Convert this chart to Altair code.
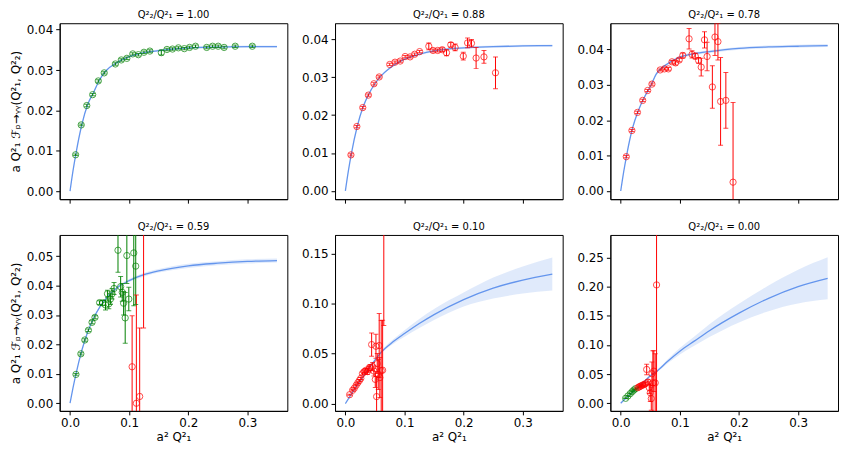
import altair as alt
import pandas as pd

# ---------------- data ----------------
ratios = ["1.00", "0.88", "0.78", "0.59", "0.10", "0.00"]

curve_x = [0, 0.005, 0.01, 0.02, 0.03, 0.04, 0.05, 0.06, 0.08, 0.10, 0.125, 0.15, 0.20, 0.25, 0.30, 0.35]

curve_y1 = [0, 0.0050, 0.0093, 0.0165, 0.0215, 0.0245, 0.0276, 0.0297, 0.0319, 0.0333, 0.0343, 0.0348, 0.0355, 0.0357, 0.0358, 0.0358]
curve_y2 = [0, 0.0052, 0.0097, 0.0170, 0.0222, 0.0257, 0.0283, 0.0303, 0.0330, 0.0348, 0.0361, 0.0370, 0.0378, 0.0381, 0.0383, 0.0384]
curve_y3 = [0, 0.0054, 0.0101, 0.0178, 0.0228, 0.0265, 0.0295, 0.0330, 0.0360, 0.0378, 0.0388, 0.0394, 0.0403, 0.0407, 0.0409, 0.0411]
curve_y4 = [0, 0.0052, 0.0099, 0.0180, 0.0243, 0.0290, 0.0326, 0.0354, 0.0393, 0.0417, 0.0437, 0.0450, 0.0467, 0.0476, 0.0482, 0.0485]
curve_y5 = [0, 0.0048, 0.0095, 0.0185, 0.0270, 0.0355, 0.0435, 0.0510, 0.0615, 0.0700, 0.0800, 0.0890, 0.1040, 0.1155, 0.1235, 0.1295]
curve_y6 = [0, 0.0050, 0.0098, 0.0190, 0.0280, 0.0375, 0.0470, 0.0540, 0.0725, 0.0893, 0.1070, 0.1245, 0.1546, 0.1800, 0.2001, 0.2143]

band_h1 = [0, 0.0001, 0.0001, 0.0002, 0.0002, 0.0002, 0.0002, 0.0002, 0.0002, 0.0002, 0.0002, 0.0003, 0.0003, 0.0003, 0.0003, 0.0003]
band_h2 = [0, 0.0001, 0.0001, 0.0002, 0.0002, 0.0002, 0.0002, 0.0002, 0.0003, 0.0003, 0.0003, 0.0003, 0.0003, 0.0003, 0.0003, 0.0003]
band_h3 = [0, 0.0001, 0.0002, 0.0002, 0.0003, 0.0003, 0.0003, 0.0003, 0.0003, 0.0004, 0.0004, 0.0004, 0.0004, 0.0004, 0.0004, 0.0004]
band_h4 = [0, 0.0001, 0.0001, 0.0002, 0.0002, 0.0002, 0.0003, 0.0003, 0.0004, 0.0005, 0.0006, 0.0006, 0.0007, 0.0007, 0.0007, 0.0007]
band_h5 = [0, 0.0001, 0.0002, 0.0004, 0.0006, 0.0008, 0.0010, 0.0014, 0.0022, 0.0033, 0.0045, 0.0055, 0.0070, 0.0105, 0.0135, 0.0165]
band_h6 = [0, 0.0001, 0.0002, 0.0004, 0.0007, 0.0010, 0.0015, 0.0020, 0.0035, 0.0055, 0.0080, 0.0110, 0.0160, 0.0220, 0.0290, 0.0360]

# panel 1 (Q2^2/Q1^2 = 1.00)
p1_x = [0.0094, 0.0189, 0.0283, 0.0383, 0.0478, 0.0578, 0.0767, 0.0867, 0.0961, 0.1061, 0.1156, 0.1250, 0.1350,
        0.1544, 0.1639, 0.1733, 0.1833, 0.1933, 0.2022, 0.2122, 0.2311, 0.2411, 0.2506, 0.2606, 0.2794, 0.3083]
p1_y = [0.0090, 0.0164, 0.0212, 0.0239, 0.0273, 0.0293, 0.0315, 0.0325, 0.0329, 0.0340, 0.0338, 0.0344, 0.0347,
        0.0343, 0.0351, 0.0352, 0.0355, 0.0353, 0.0356, 0.0359, 0.0356, 0.0359, 0.0359, 0.0356, 0.0359, 0.0359]
p1_e = [0.0002, 0.0002, 0.0003, 0.0003, 0.0003, 0.0003, 0.0003, 0.0003, 0.0003, 0.0003, 0.0003, 0.0003, 0.0003,
        0.0006, 0.0003, 0.0003, 0.0003, 0.0003, 0.0003, 0.0003, 0.0003, 0.0003, 0.0003, 0.0003, 0.0003, 0.0003]
p1_c = ["g"] * 26

# panel 2 (0.88)
p2_x = [0.0094, 0.0194, 0.0294, 0.0389, 0.0483, 0.0572, 0.0750, 0.0839, 0.0928, 0.1011, 0.1094, 0.1172, 0.1256,
        0.1411, 0.1483, 0.1561, 0.1639, 0.1711, 0.1783, 0.1856, 0.1994, 0.2067, 0.2133, 0.2211, 0.2344, 0.2539]
p2_y = [0.0095, 0.0170, 0.0220, 0.0253, 0.0283, 0.0301, 0.0334, 0.0340, 0.0343, 0.0355, 0.0354, 0.0361, 0.0368,
        0.0382, 0.0371, 0.0371, 0.0373, 0.0365, 0.0386, 0.0379, 0.0356, 0.0391, 0.0390, 0.0351, 0.0354, 0.0312]
p2_e = [0.0003, 0.0003, 0.0003, 0.0003, 0.0003, 0.0003, 0.0003, 0.0003, 0.0003, 0.0003, 0.0003, 0.0003, 0.0003,
        0.0009, 0.0004, 0.0004, 0.0005, 0.0008, 0.0006, 0.0009, 0.0010, 0.0013, 0.0010, 0.0028, 0.0017, 0.0042]
p2_c = ["r"] * 26

# panel 3 (0.78)
p3_x = [0.0094, 0.0189, 0.0283, 0.0372, 0.0456, 0.0528, 0.0667, 0.0739, 0.0806, 0.0867, 0.0928, 0.0989, 0.1050,
        0.1156, 0.1206, 0.1261, 0.1317, 0.1361, 0.1417, 0.1461, 0.1550, 0.1594, 0.1644, 0.1689, 0.1778, 0.1900]
p3_y = [0.0097, 0.0171, 0.0222, 0.0256, 0.0284, 0.0302, 0.0342, 0.0345, 0.0345, 0.0365, 0.0362, 0.0370, 0.0383,
        0.0430, 0.0386, 0.0381, 0.0369, 0.0350, 0.0427, 0.0380, 0.0294, 0.0435, 0.0422, 0.0253, 0.0256, 0.0025]
p3_e = [0.0003, 0.0003, 0.0003, 0.0003, 0.0003, 0.0003, 0.0003, 0.0003, 0.0004, 0.0004, 0.0006, 0.0005, 0.0007,
        0.0029, 0.0010, 0.0008, 0.0008, 0.0025, 0.0023, 0.0040, 0.0060, 0.0052, 0.0052, 0.0124, 0.0079, 0.0225]
p3_c = ["r"] * 26

# panel 4 (0.59)
p4_x = [0.0100, 0.0183, 0.0250, 0.0311, 0.0372, 0.0422, 0.0500, 0.0550, 0.0600, 0.0633, 0.0656, 0.0683, 0.0711,
        0.0744, 0.0811, 0.0856, 0.0883, 0.0906, 0.0933, 0.0961, 0.0994, 0.1078, 0.1111,
        0.1050, 0.1122, 0.1178, 0.1244]
p4_y = [0.0098, 0.0168, 0.0215, 0.0248, 0.0275, 0.0292, 0.0342, 0.0341, 0.0334, 0.0372, 0.0338, 0.0354, 0.0372,
        0.0390, 0.0520, 0.0396, 0.0377, 0.0340, 0.0290, 0.0502, 0.0354, 0.0511, 0.0466,
        0.0124, 0.0000, 0.0023, 0.0750]
p4_e = [0.0003, 0.0004, 0.0004, 0.0004, 0.0005, 0.0005, 0.0006, 0.0008, 0.0017, 0.0012, 0.0017, 0.0018, 0.0018,
        0.0020, 0.0075, 0.0035, 0.0030, 0.0040, 0.0086, 0.0095, 0.0040, 0.0180, 0.0130,
        0.0173, 0.0368, 0.0233, 0.0494]
p4_c = ["g"] * 23 + ["r"] * 4

# panel 5 (0.10)
p5_x = [0.0072, 0.0122, 0.0150, 0.0183, 0.0211, 0.0239, 0.0261, 0.0289, 0.0317, 0.0344, 0.0372, 0.0394, 0.0417,
        0.0444, 0.0461, 0.0483, 0.0506, 0.0517, 0.0528, 0.0539, 0.0556, 0.0572, 0.0583, 0.0606, 0.0630, 0.0650]
p5_y = [0.0089, 0.0133, 0.0153, 0.0183, 0.0209, 0.0232, 0.0252, 0.0300, 0.0318, 0.0332, 0.0320, 0.0345, 0.0360,
        0.0590, 0.0370, 0.0325, 0.0242, 0.0573, 0.0070, 0.0400, 0.0290, 0.0580, 0.0260, 0.0330, 0.0334, 0.1800]
p5_e = [0.0005, 0.0006, 0.0006, 0.0007, 0.0008, 0.0009, 0.0010, 0.0015, 0.0020, 0.0020, 0.0030, 0.0030, 0.0030,
        0.0116, 0.0040, 0.0050, 0.0080, 0.0120, 0.0200, 0.0100, 0.0150, 0.0320, 0.0200, 0.0500, 0.0500, 0.1020]
p5_c = ["r"] * 26

# panel 6 (0.00)
p6_x = [0.0083, 0.0122, 0.0161, 0.0194, 0.0222, 0.0250,
        0.0289, 0.0310, 0.0328, 0.0350, 0.0372, 0.0395, 0.0417, 0.0439, 0.0461, 0.0483, 0.0500, 0.0517,
        0.0528, 0.0544, 0.0560, 0.0583, 0.0606]
p6_y = [0.0085, 0.0125, 0.0165, 0.0199, 0.0227, 0.0250,
        0.0267, 0.0280, 0.0290, 0.0300, 0.0313, 0.0320, 0.0335, 0.0580, 0.0364, 0.0267, 0.0180, 0.0080,
        0.0506, 0.0350, 0.0550, 0.0350, 0.2030]
p6_e = [0.0004, 0.0005, 0.0006, 0.0007, 0.0008, 0.0009,
        0.0010, 0.0015, 0.0015, 0.0020, 0.0020, 0.0030, 0.0030, 0.0090, 0.0040, 0.0100, 0.0150, 0.0200,
        0.0200, 0.0550, 0.0350, 0.0500, 0.2500]
p6_c = ["g"] * 6 + ["r"] * 17

y_domains = [[-0.0020, 0.0416], [-0.0022, 0.0443], [-0.0023, 0.0474],
             [-0.0026, 0.0572], [-0.0073, 0.1686], [-0.0131, 0.2887]]
y_ticks = [[0, 0.01, 0.02, 0.03, 0.04]] * 3 + [[0, 0.01, 0.02, 0.03, 0.04, 0.05],
                                               [0, 0.05, 0.10, 0.15],
                                               [0, 0.05, 0.10, 0.15, 0.20, 0.25]]
x_domain = [-0.0175, 0.3675]
x_ticks = [0, 0.1, 0.2, 0.3]

curves = [curve_y1, curve_y2, curve_y3, curve_y4, curve_y5, curve_y6]
bands = [band_h1, band_h2, band_h3, band_h4, band_h5, band_h6]
points = [(p1_x, p1_y, p1_e, p1_c), (p2_x, p2_y, p2_e, p2_c), (p3_x, p3_y, p3_e, p3_c),
          (p4_x, p4_y, p4_e, p4_c), (p5_x, p5_y, p5_e, p5_c), (p6_x, p6_y, p6_e, p6_c)]

# ---------------- styling ----------------
FONT = "DejaVu Sans"
BLUE = "#6495ED"
YTITLE = "a Q\u00b2\u2081 \u2131\u209a\u2192\u1d67\u1d67(Q\u00b2\u2081, Q\u00b2\u2082)"
XTITLE = "a\u00b2 Q\u00b2\u2081"
W, H = 229, 177

color_scale = alt.Scale(domain=["g", "r"], range=["green", "red"])


def panel(i):
    row, col = divmod(i, 3)
    cdf = pd.DataFrame({"x": curve_x, "y": curves[i]})
    cdf["lo"] = [a - b for a, b in zip(curves[i], bands[i])]
    cdf["hi"] = [a + b for a, b in zip(curves[i], bands[i])]
    px, py, pe, pc = points[i]
    pdf = pd.DataFrame({"x": px, "y": py, "e": pe, "c": pc})
    pdf["lo"] = pdf["y"] - pdf["e"]
    pdf["hi"] = pdf["y"] + pdf["e"]

    common = dict(grid=False, labelFont=FONT, titleFont=FONT, labelFontSize=12, titleFontSize=12,
                  titleFontWeight="normal", domainColor="black", tickColor="black",
                  labelColor="black", titleColor="black", tickSize=4, labelPadding=3)
    if row == 1:
        xaxis = alt.Axis(values=x_ticks, format=".1f", title=XTITLE, titlePadding=3, **common)
    else:
        xaxis = alt.Axis(values=x_ticks, format=".1f", labels=False, title=None, **common)
    if col == 0:
        yaxis = alt.Axis(values=y_ticks[i], format=".2f", title=YTITLE, titlePadding=4, **common)
    else:
        yaxis = alt.Axis(values=y_ticks[i], format=".2f", title=None, **common)
    xs = alt.Scale(domain=x_domain, nice=False, zero=False)
    ys = alt.Scale(domain=y_domains[i], nice=False, zero=False)

    X = alt.X("x:Q", scale=xs, axis=xaxis)
    Y = alt.Y("y:Q", scale=ys, axis=yaxis)

    band = alt.Chart(cdf).mark_area(color=BLUE, opacity=0.2, interpolate="monotone", clip=True).encode(
        x=X, y=alt.Y("lo:Q", scale=ys, axis=yaxis), y2="hi:Q")
    line = alt.Chart(cdf).mark_line(color=BLUE, strokeWidth=1.3, interpolate="monotone", clip=True).encode(
        x=X, y=Y)
    col_enc = alt.Color("c:N", scale=color_scale, legend=None)
    bars = alt.Chart(pdf).mark_rule(strokeWidth=1, clip=True).encode(
        x=X, y=alt.Y("lo:Q", scale=ys, axis=yaxis), y2="hi:Q", color=col_enc)
    cap_lo = alt.Chart(pdf).mark_tick(orient="horizontal", size=5, thickness=1, clip=True).encode(
        x=X, y=alt.Y("lo:Q", scale=ys, axis=yaxis), color=col_enc)
    cap_hi = alt.Chart(pdf).mark_tick(orient="horizontal", size=5, thickness=1, clip=True).encode(
        x=X, y=alt.Y("hi:Q", scale=ys, axis=yaxis), color=col_enc)
    pts = alt.Chart(pdf).mark_point(shape="circle", filled=False, size=40, strokeWidth=1, clip=True).encode(
        x=X, y=Y, color=col_enc)

    title = alt.TitleParams(
        text="Q\u00b2\u2082/Q\u00b2\u2081 =  " + ratios[i],
        fontSize=10, font=FONT, fontWeight="normal", color="black", anchor="middle", offset=3)
    return alt.layer(band, line, bars, cap_lo, cap_hi, pts).properties(width=W, height=H, title=title)


rows = [alt.hconcat(*[panel(3 * r + c) for c in range(3)], spacing=12) for r in range(2)]
chart = alt.vconcat(*rows, spacing=17, padding=0, background="white").configure_view(
    stroke="black", strokeWidth=1
)

chart.save("out.html", embed_options={"renderer": "svg", "actions": False})
